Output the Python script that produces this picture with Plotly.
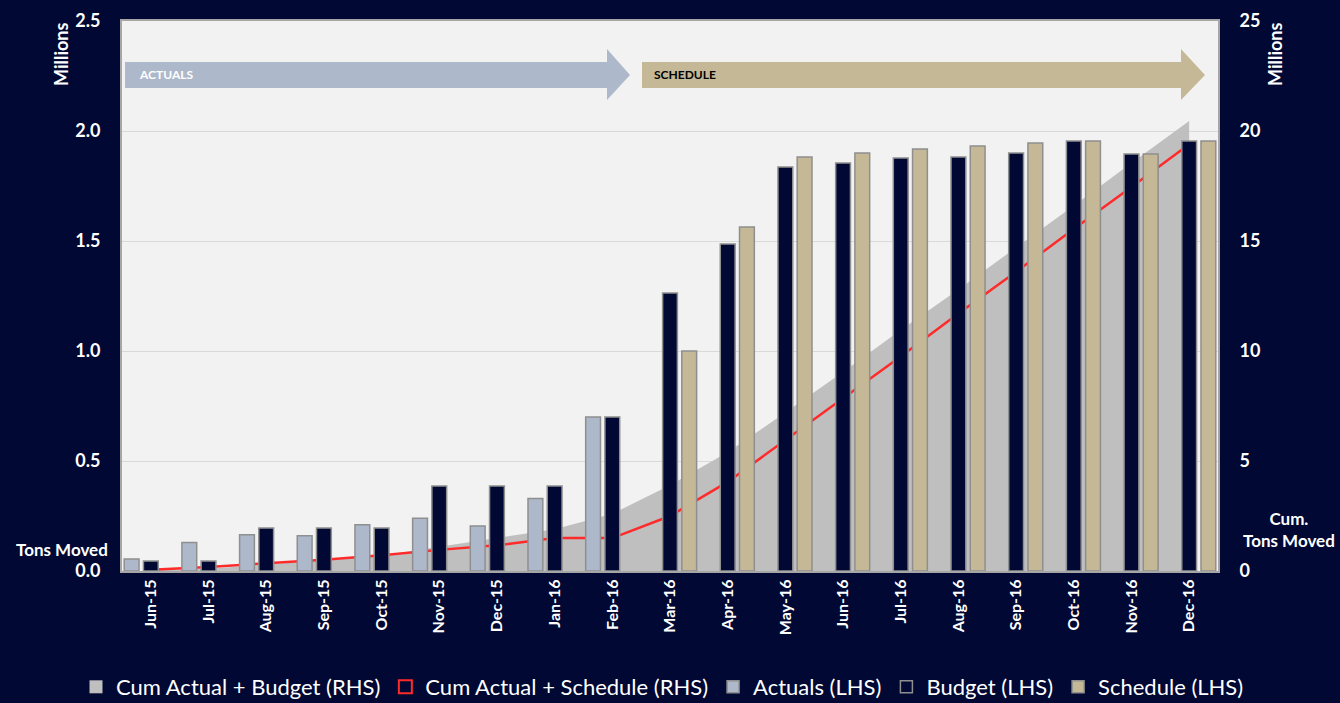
import plotly.graph_objects as go

months = ["Jun-15", "Jul-15", "Aug-15", "Sep-15", "Oct-15", "Nov-15", "Dec-15", "Jan-16",
          "Feb-16", "Mar-16", "Apr-16", "May-16", "Jun-16", "Jul-16", "Aug-16", "Sep-16",
          "Oct-16", "Nov-16", "Dec-16"]

# LHS (millions of tons)
actuals = [0.055, 0.13, 0.165, 0.16, 0.21, 0.24, 0.205, 0.33, 0.70,
           None, None, None, None, None, None, None, None, None, None]
budget = [0.045, 0.045, 0.195, 0.195, 0.195, 0.386, 0.386, 0.386, 0.70,
          1.264, 1.486, 1.836, 1.855, 1.877, 1.882, 1.90, 1.955, 1.895, 1.955]
schedule = [None, None, None, None, None, None, None, None, None,
            1.0, 1.564, 1.882, 1.90, 1.918, 1.932, 1.945, 1.955, 1.895, 1.955]

# RHS (cumulative, millions of tons)
cum_actual_budget = [0.05, 0.1, 0.3, 0.5, 0.7, 1.1, 1.5, 1.9, 2.6, 3.9, 5.4, 7.2,
                     9.05, 10.95, 12.8, 14.7, 16.6, 18.55, 20.45]
cum_actual_schedule = [0.055, 0.185, 0.35, 0.51, 0.72, 0.96, 1.165, 1.495, 1.495, 2.5,
                       4.05, 5.95, 7.85, 9.75, 11.7, 13.6, 15.55, 17.45, 19.4]

BG = "#000833"
FONT = "Lato"
C_ACT = "#adb9ca"
C_BUD = "#000833"
C_SCH = "#c4b896"
C_AREA = "#bfbfbf"
C_RED = "#ff2a2a"
OUTLINE = "#8f8f8f"

fig = go.Figure()

# cumulative series (right axis, drawn beneath bars)
fig.add_trace(go.Scatter(x=months, y=cum_actual_budget, mode="none", fill="tozeroy",
                         fillcolor=C_AREA, showlegend=False, yaxis="y", hoverinfo="skip"))
fig.add_trace(go.Scatter(x=months, y=cum_actual_schedule, mode="lines",
                         line=dict(color=C_RED, width=2.5), showlegend=False, yaxis="y"))

# legend stand-ins for the cumulative series
fig.add_trace(go.Scatter(x=[None], y=[None], mode="markers", name="Cum Actual + Budget (RHS)",
                         marker=dict(symbol="square", color=C_AREA, size=13,
                                     line=dict(width=0)), yaxis="y"))
fig.add_trace(go.Scatter(x=[None], y=[None], mode="markers", name="Cum Actual + Schedule (RHS)",
                         marker=dict(symbol="square", color=BG, size=13,
                                     line=dict(color=C_RED, width=2)), yaxis="y"))

# bars (left axis, overlaid on top)
fig.add_trace(go.Bar(x=months, y=actuals, name="Actuals (LHS)", yaxis="y2",
                     marker=dict(color=C_ACT, line=dict(color=OUTLINE, width=1.5))))
fig.add_trace(go.Bar(x=months, y=budget, name="Budget (LHS)", yaxis="y2",
                     marker=dict(color=C_BUD, line=dict(color=OUTLINE, width=1.5))))
fig.add_trace(go.Bar(x=months, y=schedule, name="Schedule (LHS)", yaxis="y2",
                     marker=dict(color=C_SCH, line=dict(color=OUTLINE, width=1.5))))

L, R, T, B = 122, 122, 21, 132
W, H = 1340, 703
PW, PH = W - L - R, H - T - B


def px(xp):
    return (xp - L) / PW


def py(yp):
    return (H - B - yp) / PH


shapes = []
# ACTUALS arrow
shapes.append(dict(type="path", xref="paper", yref="paper", line=dict(width=0), fillcolor=C_ACT,
                   path=f"M {px(125)},{py(62)} L {px(607)},{py(62)} L {px(607)},{py(49)} "
                        f"L {px(630)},{py(75)} L {px(607)},{py(100)} L {px(607)},{py(88)} "
                        f"L {px(125)},{py(88)} Z"))
# SCHEDULE arrow
shapes.append(dict(type="path", xref="paper", yref="paper", line=dict(width=0), fillcolor=C_SCH,
                   path=f"M {px(642)},{py(62)} L {px(1181)},{py(62)} L {px(1181)},{py(49)} "
                        f"L {px(1205)},{py(75)} L {px(1181)},{py(100)} L {px(1181)},{py(88)} "
                        f"L {px(642)},{py(88)} Z"))


def label(text, x, y, size, color="white", angle=0, xanchor="center"):
    return dict(text=text, x=px(x), y=py(y), xref="paper", yref="paper", xanchor=xanchor,
                yanchor="middle", textangle=angle, showarrow=False, align="center",
                font=dict(family=FONT, size=size, color=color, weight="bold"))


annotations = [
    label("ACTUALS", 137, 75, 12, xanchor="left"),
    label("SCHEDULE", 652, 75, 12, color="black", xanchor="left"),
    label("Millions", 61, 55, 18, angle=-90),
    label("Millions", 1275, 55, 18, angle=-90),
    label("Tons Moved", 62, 549, 17),
    label("Cum.<br>Tons Moved", 1289, 529, 17),
]

fig.update_layout(
    width=W, height=H,
    margin=dict(l=L, r=R, t=T, b=B, autoexpand=False),
    paper_bgcolor=BG, plot_bgcolor="#f2f2f2",
    font=dict(family=FONT, color="white"),
    barmode="group", bargap=0.0, bargroupgap=0.23,
    xaxis=dict(type="category", tickangle=-90, showgrid=False, showline=True, mirror=True,
               linecolor="#a6a6a6", linewidth=2, ticks="", automargin=False,
               tickfont=dict(family=FONT, size=16, color="white", weight="bold")),
    yaxis=dict(side="right", range=[0, 25], dtick=5, showgrid=True, gridcolor="#d9d9d9",
               zeroline=False, showline=True, linecolor="#a6a6a6", linewidth=2, ticks="",
               ticklabelstandoff=16, automargin=False,
               tickfont=dict(family=FONT, size=18, color="white", weight="bold")),
    yaxis2=dict(side="left", overlaying="y", range=[0, 2.5], dtick=0.5, tickformat=".1f",
                showgrid=False, zeroline=False, showline=True, linecolor="#a6a6a6", linewidth=2,
                ticks="", ticklabelstandoff=16, automargin=False,
                tickfont=dict(family=FONT, size=18, color="white", weight="bold")),
    legend=dict(orientation="h", x=px(76), xanchor="left", y=py(687), yanchor="middle",
                font=dict(family=FONT, size=22, color="white"), bgcolor="rgba(0,0,0,0)",
                itemwidth=30, traceorder="normal"),
    shapes=shapes,
    annotations=annotations,
)

fig.write_html("out.html")
